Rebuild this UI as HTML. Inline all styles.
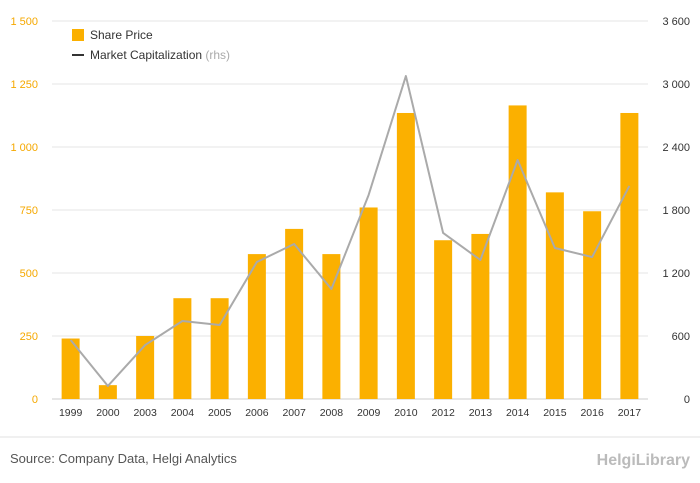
<!DOCTYPE html>
<html><head><meta charset="utf-8"><style>
body{margin:0;background:#fff;font-family:"Liberation Sans",sans-serif;}
#wrap{position:relative;width:700px;height:483px;overflow:hidden;}
</style></head><body>
<div id="wrap">
<svg id="chart" width="700" height="483"></svg>
</div>
<script>
const categories=["1999","2000","2003","2004","2005","2006","2007","2008","2009","2010","2012","2013","2014","2015","2016","2017"];
const sharePrice=[240,55,250,400,400,575,675,575,760,1135,630,655,1165,820,745,1135];
const marketCap=[562,124,514,743,705,1305,1476,1048,1943,3076,1581,1324,2276,1438,1352,2029];
const leftTicks=[0,250,500,750,1000,1250,1500];
const leftTickLabels=["0","250","500","750","1 000","1 250","1 500"];
const rightTicks=[0,600,1200,1800,2400,3000,3600];
const rightTickLabels=["0","600","1 200","1 800","2 400","3 000","3 600"];

const NS="http://www.w3.org/2000/svg";
const svg=document.getElementById('chart');
const top0=21,bot=399,x0=52,x1=648;
const yL=v=>bot-(v/1500)*(bot-top0);
const yR=v=>bot-(v/3600)*(bot-top0);
const step=(x1-x0)/categories.length;
const xC=i=>x0+step*(i+0.5);
function mk(tag,attrs,txt){const e=document.createElementNS(NS,tag);for(const k in attrs)e.setAttribute(k,attrs[k]);if(txt!==undefined)e.textContent=txt;svg.appendChild(e);return e;}

leftTicks.forEach((t,i)=>{
  const g=mk('line',{x1:x0,x2:x1,y1:yL(t),y2:yL(t),stroke:i==0?'#ccc':'#e6e6e6','stroke-width':1});
  
  
  const l=mk('text',{x:38,y:yL(t)+4,'text-anchor':'end','font-size':11,fill:'#f5a800'},leftTickLabels[i]);
  
  
});
rightTicks.forEach((t,i)=>{
  const l=mk('text',{x:690,y:yR(t)+4,'text-anchor':'end','font-size':11,fill:'#333'},rightTickLabels[i]);
  
  
});
categories.forEach((c,i)=>{
  const h=bot-yL(sharePrice[i]);
  const b=mk('rect',{x:xC(i)-9,y:yL(sharePrice[i]),width:18,height:h,fill:'#fbb000'});
  
  
  const t=mk('text',{x:xC(i),y:416,'text-anchor':'middle','font-size':10.5,fill:'#333'},c);
  
  
});
const pts=marketCap.map((v,i)=>xC(i)+','+yR(v)).join(' ');
const line=mk('polyline',{points:pts,fill:'none',stroke:'#aaa','stroke-width':2,'stroke-linejoin':'round'});



// legend
let e=mk('rect',{x:72,y:29,width:12,height:12,fill:'#fbb000'});


e=mk('text',{x:90,y:39,'font-size':12,fill:'#333'},'Share Price');


e=mk('line',{x1:72,x2:84,y1:55,y2:55,stroke:'#333','stroke-width':2});


e=mk('text',{x:90,y:59,'font-size':12,fill:'#333'});


e.innerHTML='Market Capitalization <tspan fill="#aaa">(rhs)</tspan>';

// footer
e=mk('line',{x1:0,x2:700,y1:437,y2:437,stroke:'#e0e0e0','stroke-width':1});


e=mk('text',{x:10,y:463,'font-size':13,fill:'#555'},'Source: Company Data, Helgi Analytics');


e=mk('text',{x:690,y:465,'text-anchor':'end','font-size':16,fill:'#bbb','font-weight':'bold'},'HelgiLibrary');


</script>
</body></html>
